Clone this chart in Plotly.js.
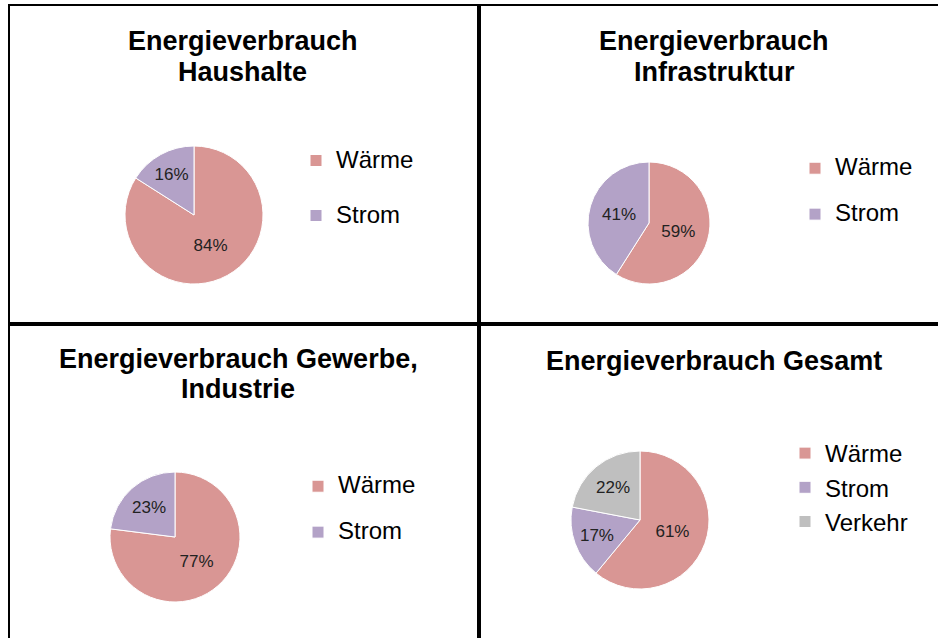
<!DOCTYPE html>
<html>
<head>
<meta charset="utf-8">
<script src="https://cdn.plot.ly/plotly-3.0.1.min.js"></script>
<style>html,body{margin:0;padding:0;background:#fff;}#chart{width:938px;height:638px;}</style>
</head>
<body>
<div id="chart"></div>
<script>
// ---- data ----
const categoriesTwo = ["Wärme", "Strom"];
const categoriesThree = ["Wärme", "Strom", "Verkehr"];
const haushalteValues = [84, 16];
const infrastrukturValues = [59, 41];
const gewerbeValues = [77, 23];
const gesamtValues = [61, 17, 22];
const titleHaushalte = ["Energieverbrauch", "Haushalte"];
const titleInfrastruktur = ["Energieverbrauch", "Infrastruktur"];
const titleGewerbe = ["Energieverbrauch Gewerbe,", "Industrie"];
const titleGesamt = ["Energieverbrauch Gesamt"];

// ---- styling / layout ----
const W = 938, H = 638;
const colors = {"Wärme": "#D99694", "Strom": "#B3A2C7", "Verkehr": "#BFBFBF"};
const FONT = "Liberation Sans, Arial, sans-serif";
const px = x => x / W;
const py = y => 1 - y / H;

// legend labels: the text is shown at 24px; an extra blank line widens the row spacing
function spacedLabel(c) { return '<span style="font-size:24px">' + c + '</span><br>&nbsp;'; }

function pieTrace(cats, values, cx, cy, r, legendId, spaced) {
  return {
    type: "pie",
    labels: spaced ? cats.map(spacedLabel) : cats,
    values: values,
    sort: false,
    direction: "clockwise",
    rotation: 0,
    textinfo: "percent",
    texttemplate: "%{percent:.0%}",
    textposition: "inside",
    insidetextorientation: "horizontal",
    textfont: {family: FONT, size: 17, color: "#222"},
    marker: {colors: cats.map(l => colors[l]), line: {color: "#fff", width: 1}},
    domain: {x: [px(cx - r), px(cx + r)], y: [py(cy + r), py(cy - r)]},
    legend: legendId,
    legendgroup: legendId,
    hoverinfo: "percent"
  };
}

const data = [
  pieTrace(categoriesTwo, haushalteValues, 194, 215, 69, "legend", true),
  pieTrace(categoriesTwo, infrastrukturValues, 649, 223, 61, "legend2", true),
  pieTrace(categoriesTwo, gewerbeValues, 175, 537, 65, "legend3", true),
  pieTrace(categoriesThree, gesamtValues, 640, 520, 69, "legend4", false)
];

function legendAt(x, y, fontSize, valign) {
  return {
    x: px(x), y: py(y), xanchor: "left", yanchor: "top",
    xref: "paper", yref: "paper",
    bgcolor: "rgba(0,0,0,0)", borderwidth: 0,
    font: {family: FONT, size: fontSize, color: "#000"},
    traceorder: "normal", valign: valign
  };
}

function titleAnn(lines, cx, mids) {
  return lines.map((t, i) => ({
    text: "<b>" + t + "</b>", x: px(cx), y: py(mids[i]),
    xref: "paper", yref: "paper", xanchor: "center", yanchor: "middle",
    showarrow: false, font: {family: FONT, size: 27, color: "#000"}
  }));
}

function rect(x0, y0, x1, y1) {
  return {type: "rect", xref: "paper", yref: "paper",
    x0: px(x0), x1: px(x1), y0: py(y1), y1: py(y0),
    line: {color: "#000", width: 2}, fillcolor: "rgba(0,0,0,0)"};
}

const layout = {
  width: W, height: H,
  margin: {l: 0, r: 0, t: 0, b: 0},
  paper_bgcolor: "#fff",
  font: {family: FONT},
  legend: legendAt(296, 141, 20, "top"),
  legend2: legendAt(795, 151, 16.5, "top"),
  legend3: legendAt(298, 469, 16.5, "top"),
  legend4: legendAt(785, 431, 24, "middle"),
  annotations: [].concat(
    titleAnn(titleHaushalte, 243, [41, 72]),
    titleAnn(titleInfrastruktur, 714, [41, 72]),
    titleAnn(titleGewerbe, 238, [358.5, 389]),
    titleAnn(titleGesamt, 714, [361])
  ),
  shapes: [
    rect(9, 5, 478, 323),
    rect(480, 5, 945, 323),
    rect(9, 325, 478, 645),
    rect(480, 325, 945, 645)
  ]
};

Plotly.newPlot("chart", data, layout, {displayModeBar: false, staticPlot: true});
</script>
</body>
</html>
